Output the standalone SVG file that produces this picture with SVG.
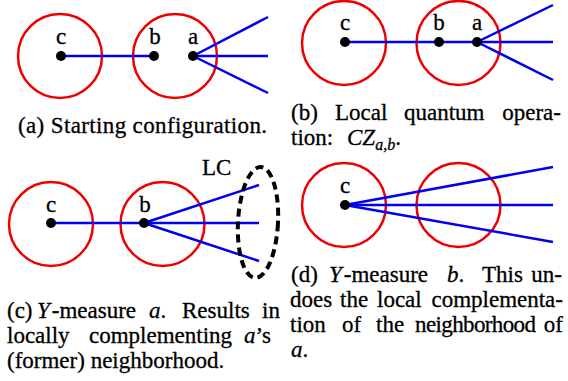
<svg xmlns="http://www.w3.org/2000/svg" width="568" height="381" viewBox="0 0 568 381">
<style>
text{font-family:"Liberation Serif","Times New Roman",serif;font-size:23px;fill:#000;stroke:#000;stroke-width:0.3}
.m{font-style:italic}
.sub{font-size:16px;font-style:italic}
.e{text-anchor:end}
.ring{fill:none;stroke:#e00;stroke-width:2.5}
.edge{stroke:#0000ee;stroke-width:2.5;fill:none}
.dot{fill:#000}
.lc{fill:none;stroke:#000;stroke-width:4;stroke-dasharray:8 5}
</style>
<rect width="568" height="381" fill="#fff"/>

<!-- Panel (a) -->
<g id="panel-a">
  <g id="a-ring1"><circle class="ring" cx="60" cy="56" r="42"/></g>
  <g id="a-ring2"><circle class="ring" cx="175" cy="56" r="42"/></g>
  <g id="a-edges">
    <line class="edge" x1="61" y1="56" x2="154" y2="56"/>
    <line class="edge" x1="193" y1="56" x2="268" y2="17"/>
    <line class="edge" x1="193" y1="56" x2="268" y2="56"/>
    <line class="edge" x1="193" y1="56" x2="268" y2="93"/>
  </g>
  <g id="a-node-c"><circle class="dot" cx="61" cy="56" r="5"/><text x="61" y="44" text-anchor="middle">c</text></g>
  <g id="a-node-b"><circle class="dot" cx="154" cy="56" r="5"/><text x="155" y="44" text-anchor="middle">b</text></g>
  <g id="a-node-a"><circle class="dot" cx="193" cy="56" r="5"/><text x="193" y="44" text-anchor="middle">a</text></g>
  <text x="18" y="133" textLength="249">(a) Starting configuration.</text>
</g>

<!-- Panel (b) -->
<g id="panel-b">
  <g id="b-ring1"><circle class="ring" cx="344" cy="43" r="42"/></g>
  <g id="b-ring2"><circle class="ring" cx="458.5" cy="43" r="42"/></g>
  <g id="b-edges">
    <line class="edge" x1="345" y1="42" x2="553" y2="42"/>
    <line class="edge" x1="477" y1="42" x2="553" y2="5"/>
    <line class="edge" x1="477" y1="42" x2="553" y2="80"/>
  </g>
  <g id="b-node-c"><circle class="dot" cx="345" cy="42" r="5"/><text x="345" y="30" text-anchor="middle">c</text></g>
  <g id="b-node-b"><circle class="dot" cx="439" cy="42" r="5"/><text x="439" y="30" text-anchor="middle">b</text></g>
  <g id="b-node-a"><circle class="dot" cx="477" cy="42" r="5"/><text x="477" y="30" text-anchor="middle">a</text></g>
  <text y="120"><tspan x="291">(b)</tspan><tspan x="335">Local</tspan><tspan x="404">quantum</tspan><tspan x="561" class="e">opera-</tspan></text>
  <text y="145"><tspan x="291">tion:</tspan><tspan x="347" class="m">CZ</tspan><tspan class="sub" dy="5">a,b</tspan><tspan dy="-5">.</tspan></text>
</g>

<!-- Panel (c) -->
<g id="panel-c">
  <g id="c-ring1"><circle class="ring" cx="51" cy="224" r="42"/></g>
  <g id="c-ring2"><circle class="ring" cx="162.5" cy="224" r="42"/></g>
  <g id="c-edges">
    <line class="edge" x1="51" y1="223" x2="144" y2="223"/>
    <line class="edge" x1="144" y1="223" x2="259" y2="185"/>
    <line class="edge" x1="144" y1="223" x2="259" y2="223"/>
    <line class="edge" x1="144" y1="223" x2="259" y2="261"/>
  </g>
  <g id="c-node-c"><circle class="dot" cx="51" cy="223" r="5"/><text x="51" y="212" text-anchor="middle">c</text></g>
  <g id="c-node-b"><circle class="dot" cx="144" cy="223" r="5"/><text x="145" y="212" text-anchor="middle">b</text></g>
  <g id="c-lc">
    <ellipse class="lc" cx="258" cy="222.5" rx="20" ry="55.5" transform="rotate(3 258 222.5)"/>
    <text x="202" y="175">LC</text>
  </g>
  <text y="318"><tspan x="7">(c)</tspan><tspan x="37" class="m">Y</tspan><tspan dx="2">-measure</tspan><tspan x="149" class="m">a</tspan><tspan>.</tspan><tspan x="182">Results</tspan><tspan x="280" class="e">in</tspan></text>
  <text y="343"><tspan x="7">locally</tspan><tspan x="89">complementing</tspan><tspan x="244" class="m">a</tspan><tspan>’s</tspan></text>
  <text x="7" y="368">(former) neighborhood.</text>
</g>

<!-- Panel (d) -->
<g id="panel-d">
  <g id="d-ring1"><circle class="ring" cx="344" cy="205" r="42"/></g>
  <g id="d-ring2"><circle class="ring" cx="458.5" cy="205" r="42"/></g>
  <g id="d-edges">
    <line class="edge" x1="345" y1="205" x2="553" y2="167"/>
    <line class="edge" x1="345" y1="205" x2="553" y2="205"/>
    <line class="edge" x1="345" y1="205" x2="553" y2="242"/>
  </g>
  <g id="d-node-c"><circle class="dot" cx="345" cy="205" r="5"/><text x="345" y="193" text-anchor="middle">c</text></g>
  <text y="282"><tspan x="291">(d)</tspan><tspan x="329" class="m">Y</tspan><tspan dx="2">-measure</tspan><tspan x="447" class="m">b</tspan><tspan>.</tspan><tspan x="482">This</tspan><tspan x="562" class="e">un-</tspan></text>
  <text y="307"><tspan x="290">does</tspan><tspan x="340">the</tspan><tspan x="377">local</tspan><tspan x="563" class="e">complementa-</tspan></text>
  <text y="332"><tspan x="290">tion</tspan><tspan x="342">of</tspan><tspan x="376">the</tspan><tspan x="415" textLength="121">neighborhood</tspan><tspan x="563" class="e">of</tspan></text>
  <text y="357"><tspan x="291" class="m">a</tspan><tspan>.</tspan></text>
</g>
</svg>
